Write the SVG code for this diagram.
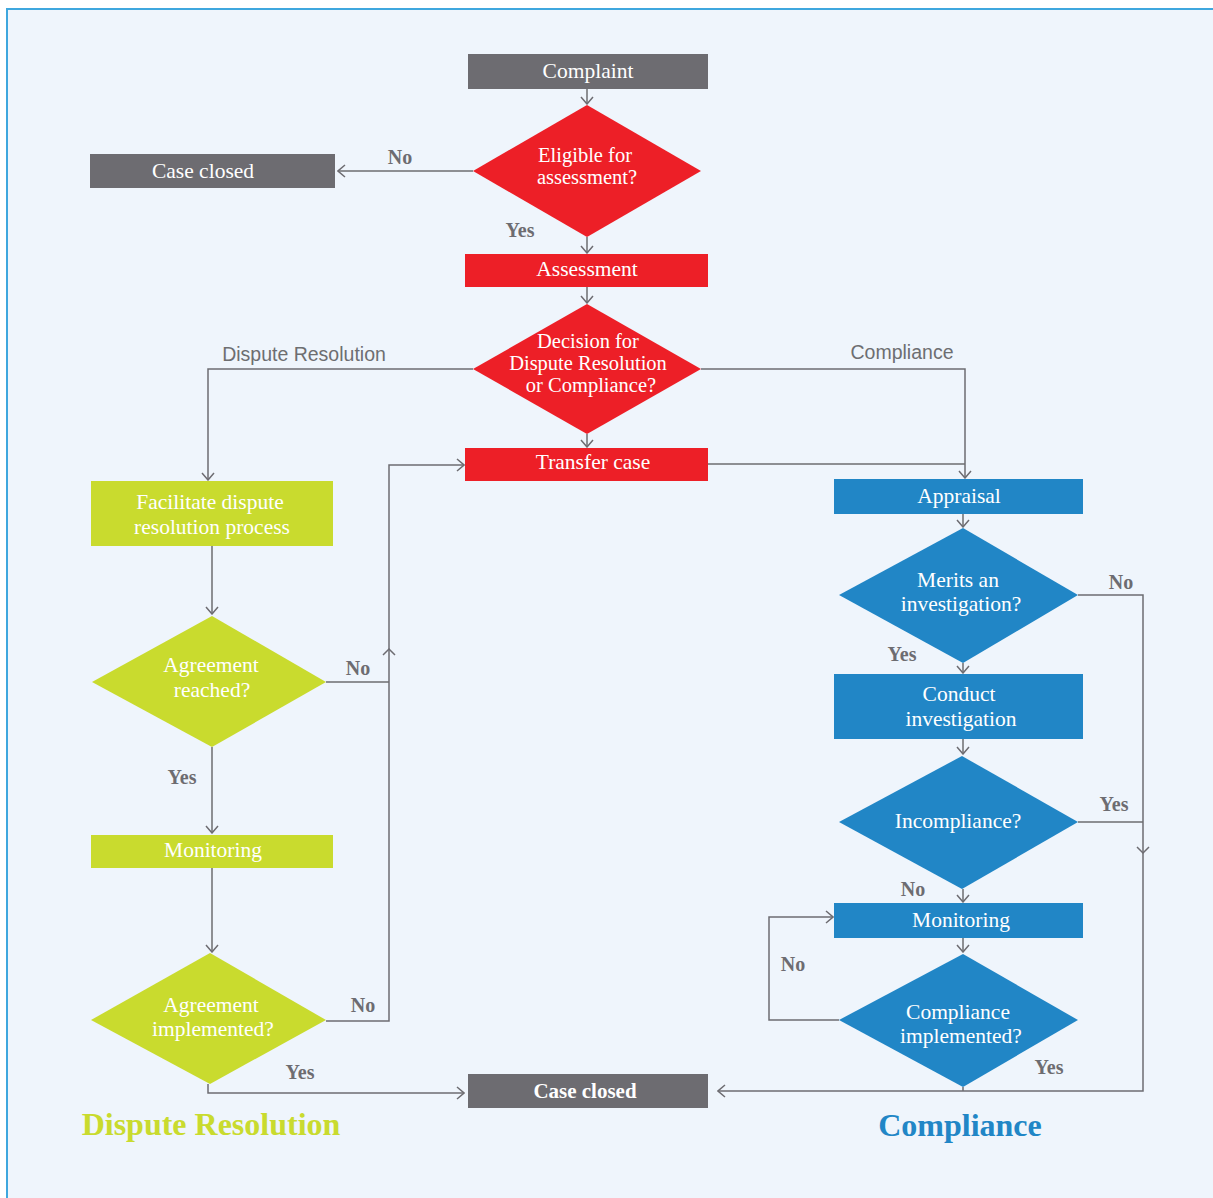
<svg xmlns="http://www.w3.org/2000/svg" width="1213" height="1198" viewBox="0 0 1213 1198">
  <style>
    .frame { fill: #EFF5FC; stroke: #3FA7DE; stroke-width: 2; }
    .gray { fill: #6D6C71; }
    .red { fill: #ED1F27; }
    .green { fill: #C9DB2E; }
    .blue { fill: #2186C6; }
    .nt { font-family: "Liberation Serif", "Times New Roman", serif; font-size: 21.5px; fill: #FFFFFF; text-anchor: middle; }
    .nts { font-family: "Liberation Serif", "Times New Roman", serif; font-size: 20.5px; fill: #FFFFFF; text-anchor: middle; }
    .ntb { font-family: "Liberation Serif", "Times New Roman", serif; font-size: 21px; font-weight: bold; fill: #FFFFFF; text-anchor: middle; }
    .lbl { font-family: "Liberation Serif", "Times New Roman", serif; font-size: 20px; font-weight: bold; fill: #6D6C71; text-anchor: middle; }
    .path-lbl { font-family: "Liberation Sans", Arial, sans-serif; font-size: 19.5px; fill: #6D6E71; text-anchor: middle; }
    .title { font-family: "Liberation Serif", "Times New Roman", serif; font-size: 32px; font-weight: bold; text-anchor: middle; }
    .conn { fill: none; stroke: #6D6C71; stroke-width: 1.5; }
  </style>
  <defs>
    <marker id="arr" viewBox="-9 -7 10 14" markerWidth="10" markerHeight="14" refX="0" refY="0" orient="auto" markerUnits="userSpaceOnUse">
      <path d="M-7,-6 L0,0 L-7,6" fill="none" stroke="#6D6C71" stroke-width="1.5"/>
    </marker>
  </defs>

  <rect width="1213" height="1198" fill="#FFFFFF"/>
  <rect class="frame" x="7" y="9" width="1220" height="1200"/>

  <!-- connectors -->
  <g id="connectors">
    <path class="conn" d="M587,89 V104" marker-end="url(#arr)"/>
    <path class="conn" d="M473,171 H338" marker-end="url(#arr)"/>
    <path class="conn" d="M587,237 V253" marker-end="url(#arr)"/>
    <path class="conn" d="M587,287 V303" marker-end="url(#arr)"/>
    <path class="conn" d="M587,434 V447" marker-end="url(#arr)"/>
    <path class="conn" d="M473,369 H208 V480" marker-end="url(#arr)"/>
    <path class="conn" d="M701,369 H965 V478" marker-end="url(#arr)"/>
    <path class="conn" d="M708,464 H965"/>
    <path class="conn" d="M212,546 V614" marker-end="url(#arr)"/>
    <path class="conn" d="M212,747 V833" marker-end="url(#arr)"/>
    <path class="conn" d="M212,868 V952" marker-end="url(#arr)"/>
    <path class="conn" d="M326,682 H389"/>
    <path class="conn" d="M326,1021 H389 V465 H464" marker-end="url(#arr)"/>
    <path class="conn" d="M383,655 L389,649 L395,655"/>
    <path class="conn" d="M208,1084 V1093 H464" marker-end="url(#arr)"/>
    <path class="conn" d="M963,514 V527" marker-end="url(#arr)"/>
    <path class="conn" d="M963,663 V673" marker-end="url(#arr)"/>
    <path class="conn" d="M963,739 V754" marker-end="url(#arr)"/>
    <path class="conn" d="M963,889 V902" marker-end="url(#arr)"/>
    <path class="conn" d="M963,938 V952" marker-end="url(#arr)"/>
    <path class="conn" d="M839,1020 H769 V917 H833" marker-end="url(#arr)"/>
    <path class="conn" d="M1078,595 H1143 V1091 H718" marker-end="url(#arr)"/>
    <path class="conn" d="M1078,822 H1143"/>
    <path class="conn" d="M1137,847 L1143,853 L1149,847"/>
    <path class="conn" d="M963,1087 V1091"/>
  </g>

  <!-- connector labels -->
  <g id="labels">
    <text class="lbl" x="400" y="164">No</text>
    <text class="lbl" x="520" y="237">Yes</text>
    <text class="path-lbl" x="304" y="361">Dispute Resolution</text>
    <text class="path-lbl" x="902" y="359">Compliance</text>
    <text class="lbl" x="358" y="675">No</text>
    <text class="lbl" x="182" y="784">Yes</text>
    <text class="lbl" x="363" y="1012">No</text>
    <text class="lbl" x="300" y="1079">Yes</text>
    <text class="lbl" x="1121" y="589">No</text>
    <text class="lbl" x="902" y="661">Yes</text>
    <text class="lbl" x="1114" y="811">Yes</text>
    <text class="lbl" x="913" y="896">No</text>
    <text class="lbl" x="793" y="971">No</text>
    <text class="lbl" x="1049" y="1074">Yes</text>
  </g>

  <!-- central track -->
  <g id="complaint">
    <rect class="gray" x="468" y="54" width="240" height="35"/>
    <text class="nt" x="588" y="78">Complaint</text>
  </g>
  <g id="eligible">
    <polygon class="red" points="587,105 701,171 587,237 473,171"/>
    <text class="nts" x="585" y="162">Eligible for</text>
    <text class="nts" x="587" y="184">assessment?</text>
  </g>
  <g id="case-closed-top">
    <rect class="gray" x="90" y="154" width="245" height="34"/>
    <text class="nt" x="203" y="178">Case closed</text>
  </g>
  <g id="assessment">
    <rect class="red" x="465" y="254" width="243" height="33"/>
    <text class="nt" x="587" y="276">Assessment</text>
  </g>
  <g id="decision">
    <polygon class="red" points="587,304 701,369 587,434 473,369"/>
    <text class="nts" x="588" y="348">Decision for</text>
    <text class="nts" x="588" y="370">Dispute Resolution</text>
    <text class="nts" x="591" y="392">or Compliance?</text>
  </g>
  <g id="transfer-case">
    <rect class="red" x="465" y="448" width="243" height="33"/>
    <text class="nt" x="593" y="469">Transfer case</text>
  </g>
  <g id="case-closed-bottom">
    <rect class="gray" x="468" y="1074" width="240" height="34"/>
    <text class="ntb" x="585" y="1098">Case closed</text>
  </g>

  <!-- dispute resolution track -->
  <g id="facilitate">
    <rect class="green" x="91" y="481" width="242" height="65"/>
    <text class="nt" x="210" y="509">Facilitate dispute</text>
    <text class="nt" x="212" y="534">resolution process</text>
  </g>
  <g id="agreement-reached">
    <polygon class="green" points="212,616 326,682 212,747 92,682"/>
    <text class="nt" x="211" y="672">Agreement</text>
    <text class="nt" x="212" y="697">reached?</text>
  </g>
  <g id="dr-monitoring">
    <rect class="green" x="91" y="835" width="242" height="33"/>
    <text class="nt" x="213" y="857">Monitoring</text>
  </g>
  <g id="agreement-implemented">
    <polygon class="green" points="210,953 326,1020 210,1084 91,1020"/>
    <text class="nt" x="211" y="1012">Agreement</text>
    <text class="nt" x="213" y="1036">implemented?</text>
  </g>
  <text class="title" x="211" y="1135" fill="#C9DB2E">Dispute Resolution</text>

  <!-- compliance track -->
  <g id="appraisal">
    <rect class="blue" x="834" y="479" width="249" height="35"/>
    <text class="nt" x="959" y="503">Appraisal</text>
  </g>
  <g id="merits">
    <polygon class="blue" points="963,528 1078,595 963,663 839,595"/>
    <text class="nt" x="958" y="587">Merits an</text>
    <text class="nt" x="961" y="611">investigation?</text>
  </g>
  <g id="conduct">
    <rect class="blue" x="834" y="674" width="249" height="65"/>
    <text class="nt" x="959" y="701">Conduct</text>
    <text class="nt" x="961" y="726">investigation</text>
  </g>
  <g id="incompliance">
    <polygon class="blue" points="962,756 1078,822 962,889 839,822"/>
    <text class="nt" x="958" y="828">Incompliance?</text>
  </g>
  <g id="c-monitoring">
    <rect class="blue" x="834" y="903" width="249" height="35"/>
    <text class="nt" x="961" y="927">Monitoring</text>
  </g>
  <g id="compliance-implemented">
    <polygon class="blue" points="963,954 1078,1020 963,1087 839,1020"/>
    <text class="nt" x="958" y="1019">Compliance</text>
    <text class="nt" x="961" y="1043">implemented?</text>
  </g>
  <text class="title" x="960" y="1136" fill="#2186C6">Compliance</text>
</svg>
